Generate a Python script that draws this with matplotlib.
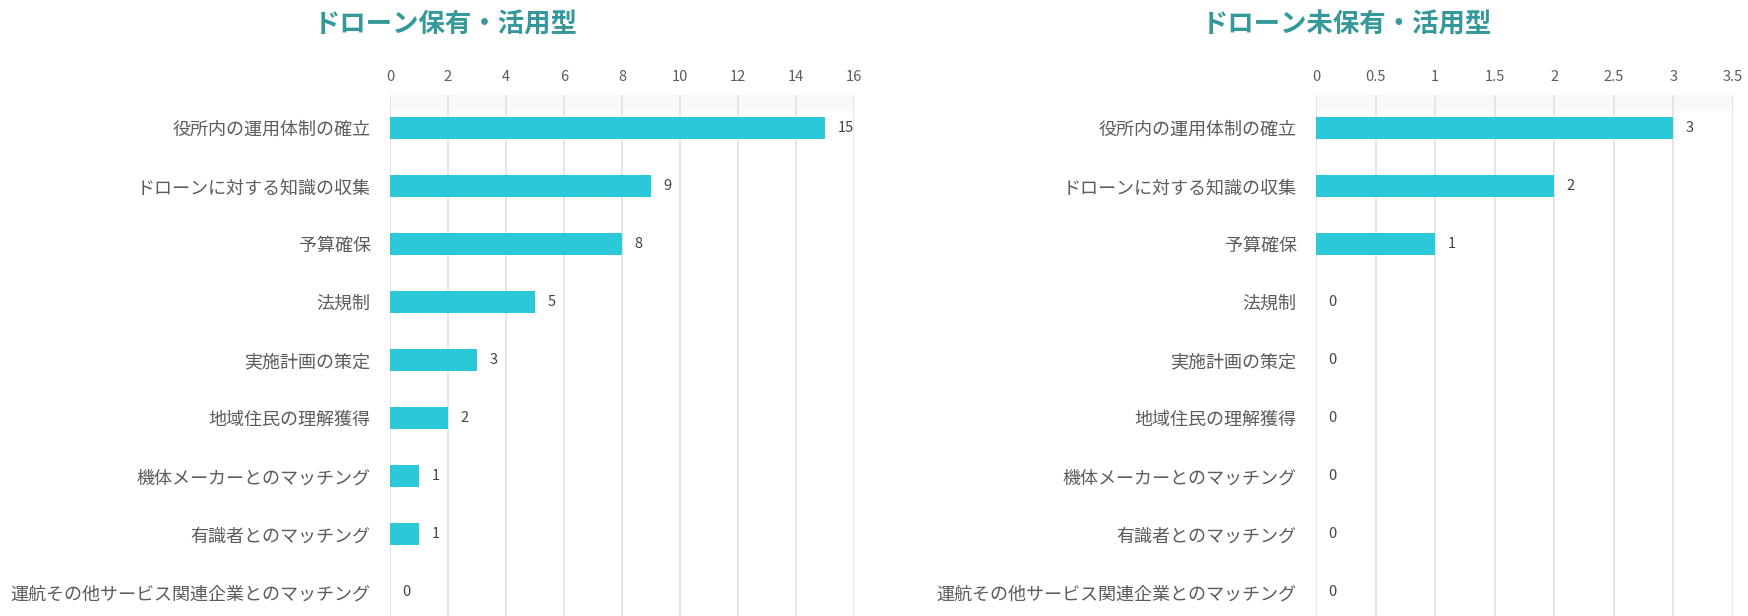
import matplotlib.pyplot as plt
import numpy as np

plt.rcParams['font.family'] = ['Noto Sans CJK JP', 'DejaVu Sans']

# data
categories = [
    "役所内の運用体制の確立",
    "ドローンに対する知識の収集",
    "予算確保",
    "法規制",
    "実施計画の策定",
    "地域住民の理解獲得",
    "機体メーカーとのマッチング",
    "有識者とのマッチング",
    "運航その他サービス関連企業とのマッチング",
]
owned_values = [15, 9, 8, 5, 3, 2, 1, 1, 0]
not_owned_values = [3, 2, 1, 0, 0, 0, 0, 0, 0]

titles = ["ドローン保有・活用型", "ドローン未保有・活用型"]
left_ticks = [0, 2, 4, 6, 8, 10, 12, 14, 16]
right_ticks = [0, 0.5, 1, 1.5, 2, 2.5, 3, 3.5]
right_tick_labels = ["0", "0.5", "1", "1.5", "2", "2.5", "3", "3.5"]

BAR_COLOR = '#2bc8d8'
TITLE_COLOR = '#35999b'
GRID_COLOR = '#e2e2e2'
TEXT_COLOR = '#5c5c5c'

W, H = 1748, 616
fig = plt.figure(figsize=(W / 100, H / 100), dpi=100)


def make_panel(rect, values, ticks, ticklabels, xmax):
    ax = fig.add_axes(rect)
    y = np.arange(len(categories))
    ax.barh(y, values, height=0.38, color=BAR_COLOR, zorder=3)
    ax.set_xlim(0, xmax)
    ax.set_ylim(8.41, -0.57)
    ax.set_yticks(y)
    ax.set_yticklabels(categories, fontsize=13, color=TEXT_COLOR)
    ax.set_xticks(ticks)
    ax.set_xticklabels(ticklabels, fontsize=10.5, color=TEXT_COLOR)
    ax.xaxis.tick_top()
    ax.tick_params(axis='both', length=0)
    ax.tick_params(axis='x', pad=8)
    ax.tick_params(axis='y', pad=14)
    for s in ax.spines.values():
        s.set_visible(False)
    ax.grid(axis='x', color=GRID_COLOR, linewidth=1.2, zorder=0)
    ax.axhspan(-0.57, -0.3, color='#f7f9f9', zorder=1, lw=0)
    for yi, v in zip(y, values):
        ax.annotate(f"{v}", (v, yi), xytext=(9, 0), textcoords='offset points',
                    ha='left', va='center', fontsize=10.5, color='#444444')
    return ax


make_panel([390 / W, 0, 464 / W, 521 / H], owned_values,
           left_ticks, [str(t) for t in left_ticks], 16)
make_panel([1316 / W, 0, 417 / W, 521 / H], not_owned_values,
           right_ticks, right_tick_labels, 3.5)

fig.text(446 / W, 1 - 25 / H, titles[0], ha='center', va='center',
         fontsize=19, fontweight='bold', color=TITLE_COLOR)
fig.text(1347 / W, 1 - 25 / H, titles[1], ha='center', va='center',
         fontsize=19, fontweight='bold', color=TITLE_COLOR)

fig.savefig('out.png', dpi=100, facecolor='white')
